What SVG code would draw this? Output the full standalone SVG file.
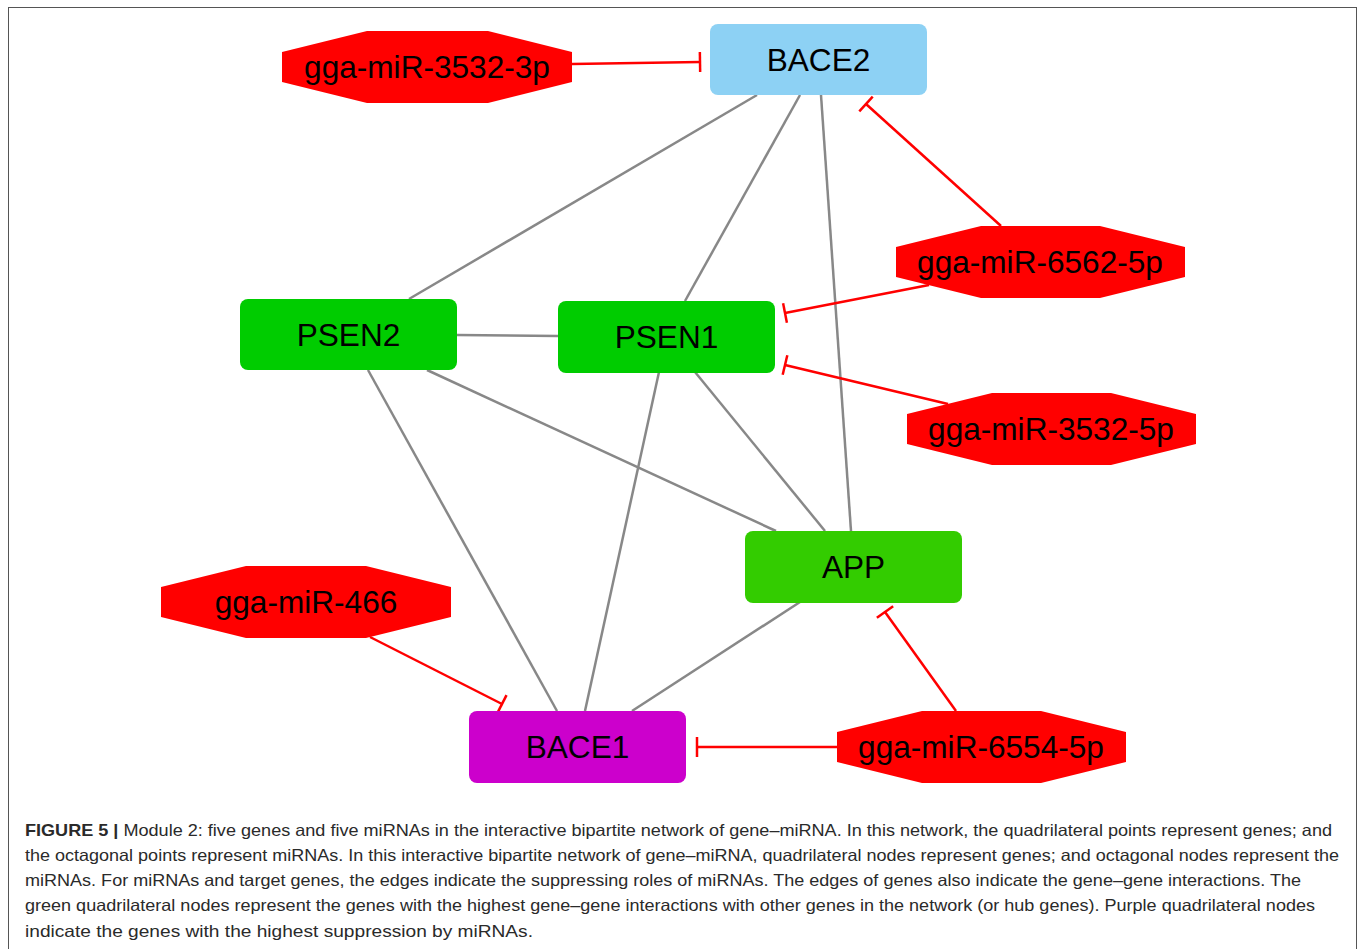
<svg xmlns="http://www.w3.org/2000/svg" width="1363" height="949" viewBox="0 0 1363 949">
<style>
.gene{stroke:none}
.mir{fill:#FF0000;stroke:none}
.lbl{font-family:"Liberation Sans",Arial,sans-serif;font-size:31.6px;fill:#000;text-anchor:middle}
.gg{stroke:#888888;stroke-width:2.5;fill:none}
.inh{stroke:#FF0000;stroke-width:2.5;fill:none;marker-end:url(#tee)}
.cap{font-family:"Liberation Sans",Arial,sans-serif;font-size:16.5px;fill:#2a2a2a}
</style>
<defs>
<marker id="tee" markerUnits="userSpaceOnUse" viewBox="-2 -11 4 22" markerWidth="4" markerHeight="22" refX="0" refY="0" orient="auto">
<path d="M0,-10 V10" stroke="#FF0000" stroke-width="2.5"/>
</marker>
</defs>
<rect x="0" y="0" width="1363" height="949" fill="#FFFFFF"/>
<rect x="8.5" y="7.5" width="1348" height="1000" fill="none" stroke="#555" stroke-width="1"/>
<g id="connectors">
<line class="gg" x1="757" y1="95" x2="409" y2="299"/>
<line class="gg" x1="800" y1="95" x2="685" y2="301"/>
<line class="gg" x1="821" y1="95" x2="851" y2="531"/>
<line class="gg" x1="457" y1="335" x2="558" y2="336"/>
<line class="gg" x1="427" y1="370" x2="776" y2="531"/>
<line class="gg" x1="368" y1="370" x2="557" y2="711"/>
<line class="gg" x1="659" y1="372" x2="585" y2="711"/>
<line class="gg" x1="695" y1="372" x2="825" y2="531"/>
<line class="gg" x1="800" y1="602" x2="632" y2="711"/>
<line class="inh" x1="572" y1="64" x2="700" y2="62"/>
<line class="inh" x1="1001" y1="226" x2="866" y2="104"/>
<line class="inh" x1="929" y1="285" x2="785" y2="313"/>
<line class="inh" x1="948" y1="404" x2="785" y2="365"/>
<line class="inh" x1="370" y1="637" x2="502" y2="704"/>
<line class="inh" x1="956" y1="711" x2="885" y2="612"/>
<line class="inh" x1="837" y1="747" x2="697" y2="747"/>
</g>
<g id="BACE2">
<rect class="gene" x="710" y="24" width="217" height="71" rx="8" fill="#8DD1F4"/>
<text class="lbl" x="818.5" y="71">BACE2</text>
</g>
<g id="PSEN2">
<rect class="gene" x="240" y="299" width="217" height="71" rx="8" fill="#00CC00"/>
<text class="lbl" x="348.5" y="346">PSEN2</text>
</g>
<g id="PSEN1">
<rect class="gene" x="558" y="301" width="217" height="72" rx="8" fill="#00CC00"/>
<text class="lbl" x="666.5" y="348">PSEN1</text>
</g>
<g id="APP">
<rect class="gene" x="745" y="531" width="217" height="72" rx="8" fill="#33CC00"/>
<text class="lbl" x="853.5" y="578">APP</text>
</g>
<g id="BACE1">
<rect class="gene" x="469" y="711" width="217" height="72" rx="8" fill="#CC00CC"/>
<text class="lbl" x="577.5" y="758">BACE1</text>
</g>
<g id="gga-miR-3532-3p">
<polygon class="mir" points="367,31 488,31 572,52 572,82 488,103 367,103 282,82 282,52"/>
<text class="lbl" x="427" y="78">gga-miR-3532-3p</text>
</g>
<g id="gga-miR-6562-5p">
<polygon class="mir" points="981,226 1100,226 1185,247 1185,277 1100,298 981,298 896,277 896,247"/>
<text class="lbl" x="1040" y="273">gga-miR-6562-5p</text>
</g>
<g id="gga-miR-3532-5p">
<polygon class="mir" points="992,393 1111,393 1196,414 1196,444 1111,465 992,465 907,444 907,414"/>
<text class="lbl" x="1051" y="440">gga-miR-3532-5p</text>
</g>
<g id="gga-miR-466">
<polygon class="mir" points="246,566 366,566 451,587 451,617 366,638 246,638 161,617 161,587"/>
<text class="lbl" x="306" y="613">gga-miR-466</text>
</g>
<g id="gga-miR-6554-5p">
<polygon class="mir" points="922,711 1041,711 1126,732 1126,762 1041,783 922,783 837,762 837,732"/>
<text class="lbl" x="981" y="758">gga-miR-6554-5p</text>
</g>
<g id="caption">
<text class="cap" x="25" y="836" textLength="1307" lengthAdjust="spacingAndGlyphs"><tspan font-weight="bold">FIGURE 5 |</tspan> Module 2: five genes and five miRNAs in the interactive bipartite network of gene–miRNA. In this network, the quadrilateral points represent genes; and</text>
<text class="cap" x="25" y="861" textLength="1314" lengthAdjust="spacingAndGlyphs">the octagonal points represent miRNAs. In this interactive bipartite network of gene–miRNA, quadrilateral nodes represent genes; and octagonal nodes represent the</text>
<text class="cap" x="25" y="886" textLength="1276" lengthAdjust="spacingAndGlyphs">miRNAs. For miRNAs and target genes, the edges indicate the suppressing roles of miRNAs. The edges of genes also indicate the gene–gene interactions. The</text>
<text class="cap" x="25" y="911" textLength="1290" lengthAdjust="spacingAndGlyphs">green quadrilateral nodes represent the genes with the highest gene–gene interactions with other genes in the network (or hub genes). Purple quadrilateral nodes</text>
<text class="cap" x="25" y="937" textLength="508" lengthAdjust="spacingAndGlyphs">indicate the genes with the highest suppression by miRNAs.</text>
</g>
</svg>
